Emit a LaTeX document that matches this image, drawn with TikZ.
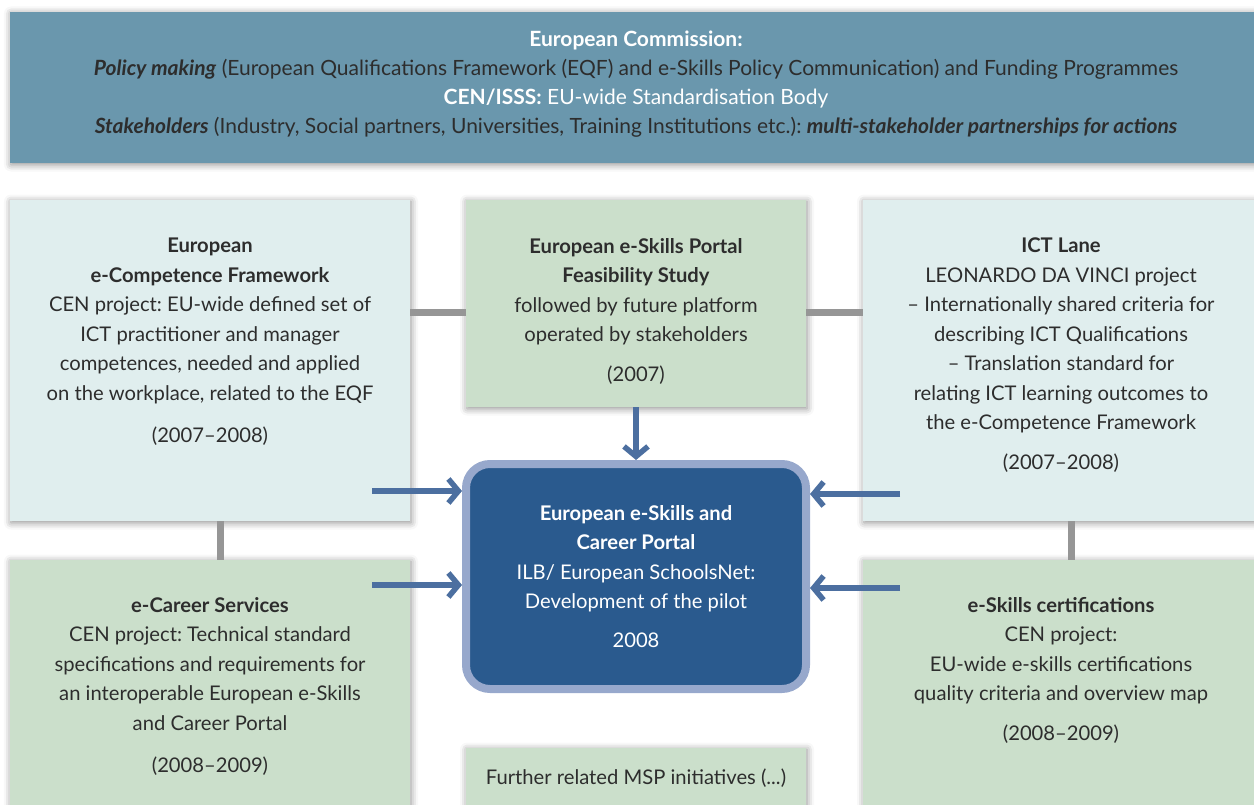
\documentclass[tikz,border=0pt]{standalone}
\usepackage{fontspec}
\setmainfont{Lato}
\frenchspacing
\usetikzlibrary{positioning,arrows.meta,shadows.blur}

\definecolor{ecblue}{RGB}{106,151,173}
\definecolor{paleteal}{RGB}{224,238,238}
\definecolor{palegreen}{RGB}{203,223,203}
\definecolor{portalblue}{RGB}{42,90,142}
\definecolor{portalrim}{RGB}{151,168,204}
\definecolor{arrowblue}{RGB}{76,111,160}
\definecolor{linkgray}{RGB}{150,150,150}
\definecolor{ink}{RGB}{45,45,45}

\tikzset{
  panel/.style={rectangle, inner sep=0pt, outer sep=0pt, anchor=north west,
    blur shadow={shadow xshift=1pt, shadow yshift=-1.5pt, shadow blur radius=7pt, shadow opacity=45}},
  tealpanel/.style={panel, fill=paleteal},
  greenpanel/.style={panel, fill=palegreen},
  note/.style={align=center, inner sep=0pt, text=ink, font=\fontsize{20.2}{29.5}\selectfont},
  portalbox/.style={rectangle, fill=portalblue, draw=portalrim, line width=8pt,
    rounded corners=24pt, minimum width=340pt, minimum height=225pt,
    align=center, inner sep=0pt, text=white, font=\fontsize{20.2}{29.5}\selectfont},
  flow/.style={draw=arrowblue, line width=5.5pt, -{Straight Barb[length=10pt,width=24pt]}},
  link/.style={draw=linkgray, line width=7pt}
}

\begin{document}
\begin{tikzpicture}[x=1pt, y=-1pt]
\useasboundingbox (0,0) rectangle (1254,805);
\clip (0,0) rectangle (1254,805);

  % commission bar
  \node[panel, fill=ecblue, minimum width=1252pt, minimum height=151pt] (ec) at (10,12) {};
  \node[note, font=\fontsize{21}{29}\selectfont] (ec-txt) [below=19pt of ec.north] {%
    \textcolor{white}{\textbf{European Commission:}}\\
    \textbf{\textit{Policy making}} (European Qualifications Framework (EQF) and e-Skills Policy Communication) and Funding Programmes\\
    \textcolor{white}{\textbf{CEN/ISSS:} EU-wide Standardisation Body}\\
    \textbf{\textit{Stakeholders}} (Industry, Social partners, Universities, Training Institutions etc.): \textbf{\textit{multi-stakeholder partnerships for actions}}};

  % upper row
  \node[tealpanel, minimum width=400pt, minimum height=321pt] (ecf) at (10,200) {};
  \node[greenpanel, minimum width=340pt, minimum height=207pt] (feas) [right=56pt of ecf.north east, anchor=north west] {};
  \node[tealpanel, minimum width=396pt, minimum height=321pt] (ict) [right=57pt of feas.north east, anchor=north west] {};

  % lower row
  \node[greenpanel, minimum width=400pt, minimum height=260pt] (ecar) [below=39pt of ecf.south west, anchor=north west] {};
  \node[greenpanel, minimum width=396pt, minimum height=260pt] (cert) [below=39pt of ict.south west, anchor=north west] {};
  \node[greenpanel, minimum width=340pt, minimum height=70pt] (msp) [below=341pt of feas.south west, anchor=north west] {};

  % grey links
  \coordinate (bar-l) at ([yshift=-9.5pt]feas.west);
  \coordinate (bar-r) at ([yshift=-9.5pt]feas.east);
  \coordinate (post-l) at ([xshift=10pt]ecf.south);
  \coordinate (post-r) at ([xshift=10pt]ict.south);
  \draw[link] (bar-l) -- (bar-l -| ecf.east);
  \draw[link] (bar-r) -- (bar-r -| ict.west);
  \draw[link] (post-l) -- (post-l |- ecar.north);
  \draw[link] (post-r) -- (post-r |- cert.north);

  % texts
  \node[note] (ecf-txt) [below=38pt of ecf.north] {\textbf{European}\\ \textbf{e-Competence Framework}\\
    CEN project: EU-wide defined set of\\ ICT practitioner and manager\\ competences, needed and applied\\
    on the workplace, related to the EQF\\[13pt] (2007--2008)};
  \node[note] (feas-txt) [below=38pt of feas.north] {\textbf{European e-Skills Portal}\\ \textbf{Feasibility Study}\\
    followed by future platform\\ operated by stakeholders\\[10pt] (2007)};
  \node[note] (ict-txt) [below=38pt of ict.north] {\textbf{ICT Lane}\\ LEONARDO DA VINCI project\\
    -- Internationally shared criteria for\\ describing ICT Qualifications\\ -- Translation standard for\\
    relating ICT learning outcomes to\\ the e-Competence Framework\\[10pt] (2007--2008)};
  \node[note] (ecar-txt) [below=37pt of ecar.north] {\textbf{e-Career Services}\\ CEN project: Technical standard\\
    specifications and requirements for\\ an interoperable European e-Skills\\ and Career Portal\\[13pt] (2008--2009)};
  \node[note] (cert-txt) [below=37pt of cert.north] {\textbf{e-Skills certifications}\\ CEN project:\\
    EU-wide e-skills certifications\\ quality criteria and overview map\\[10pt] (2008--2009)};
  \node[note] (msp-txt) [below=21pt of msp.north] {Further related MSP initiatives (...)};

  % portal
  \node[portalbox] (portal) at (636,576.5) {\textbf{European e-Skills and}\\ \textbf{Career Portal}\\
    ILB/ European SchoolsNet:\\ Development of the pilot\\[9pt] 2008};

  % arrows into the portal
  \coordinate (ecf-in) at ([shift={(-38pt,30pt)}]ecf.south east);
  \coordinate (ecar-in) at ([shift={(-38pt,-25pt)}]ecar.north east);
  \coordinate (ict-in) at ([shift={(37pt,27pt)}]ict.south west);
  \coordinate (cert-in) at ([shift={(37pt,-28pt)}]cert.north west);
  \draw[flow] (feas) -- (portal);
  \draw[flow] (ecf-in) -- (ecf-in -| portal.west);
  \draw[flow] (ecar-in) -- (ecar-in -| portal.west);
  \draw[flow] (ict-in) -- (ict-in -| portal.east);
  \draw[flow] (cert-in) -- (cert-in -| portal.east);

\end{tikzpicture}
\end{document}
